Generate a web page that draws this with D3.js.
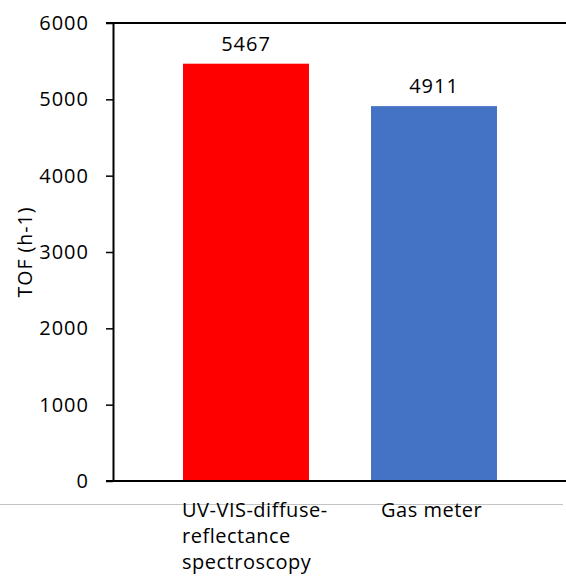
<!DOCTYPE html>
<html>
<head>
<meta charset="utf-8">
<script src="https://cdn.jsdelivr.net/npm/d3@7"></script>
<style>
  html, body { margin: 0; padding: 0; background: #fff; }
  svg { display: block; }
  text { font-family: "Open Sans", "Noto Sans", sans-serif; fill: #000; }
</style>
</head>
<body>
<script>
// Turnover frequency measured by two methods
const categories = [["UV-VIS-diffuse-", "reflectance", "spectroscopy"], ["Gas meter"]];
const categoryKeys = ["UV-VIS-diffuse-reflectance spectroscopy", "Gas meter"];
const values = [5467, 4911];
const colors = ["#FF0000", "#4472C4"];
const yTicks = [0, 1000, 2000, 3000, 4000, 5000, 6000];
const yTitle = "TOF (h-1)";

const W = 566, H = 579;
const FS = 20;
const svg = d3.select("body").append("svg").attr("width", W).attr("height", H);

const x = d3.scaleBand().domain(categoryKeys).range([152, 528])
  .paddingInner(0.33).paddingOuter(0.165);
const y = d3.scaleLinear().domain([0, 6000]).range([481, 23]);

// faint separator beneath the plot
svg.append("line").attr("x1", 0).attr("x2", 563).attr("y1", 504.5).attr("y2", 504.5)
  .attr("stroke", "#c4c4c4").attr("stroke-width", 1);

// bars
svg.selectAll("rect.bar").data(values).join("rect")
  .attr("class", "bar")
  .attr("x", (d, i) => x(categoryKeys[i]))
  .attr("width", x.bandwidth())
  .attr("y", d => y(d))
  .attr("height", d => y(0) - y(d))
  .attr("fill", (d, i) => colors[i]);

// value labels
svg.selectAll("text.val").data(values).join("text")
  .attr("class", "val")
  .attr("x", (d, i) => x(categoryKeys[i]) + x.bandwidth() / 2)
  .attr("y", d => y(d) - 13)
  .attr("text-anchor", "middle")
  .attr("font-size", FS)
  .attr("letter-spacing", 1)
  .text(d => d);

// y axis
const yAxis = d3.axisLeft(y).tickValues(yTicks).tickFormat(d3.format("d"))
  .tickSize(7).tickPadding(17).tickSizeOuter(0);
const gy = svg.append("g").attr("transform", "translate(113,0)").call(yAxis);
gy.select(".domain").attr("stroke", "#000").attr("stroke-width", 2);
gy.selectAll(".tick line").attr("stroke", "#000").attr("stroke-width", 1.5);
gy.selectAll(".tick text").attr("font-size", FS).attr("letter-spacing", 1)
  .attr("font-family", "'Open Sans', sans-serif").attr("fill", "#000");

// top border and baseline extending across the plot
svg.append("line").attr("x1", 106).attr("x2", W).attr("y1", y(6000)).attr("y2", y(6000))
  .attr("stroke", "#000").attr("stroke-width", 2);
svg.append("line").attr("x1", 106).attr("x2", W).attr("y1", y(0)).attr("y2", y(0))
  .attr("stroke", "#000").attr("stroke-width", 2);

// category labels, left aligned under their bars
categories.forEach((lines, i) => {
  const lx = x(categoryKeys[i]) - 1 + (i === 1 ? 11 : 0);
  const t = svg.append("text").attr("font-size", FS).attr("letter-spacing", 0.5);
  lines.forEach((ln, j) => {
    t.append("tspan").attr("x", lx).attr("y", 517 + j * 26).text(ln);
  });
});

// y axis title
svg.append("text")
  .attr("transform", "translate(32,252) rotate(-90)")
  .attr("text-anchor", "middle")
  .attr("font-size", 19.5)
  .attr("letter-spacing", 1)
  .text(yTitle);
</script>
</body>
</html>
